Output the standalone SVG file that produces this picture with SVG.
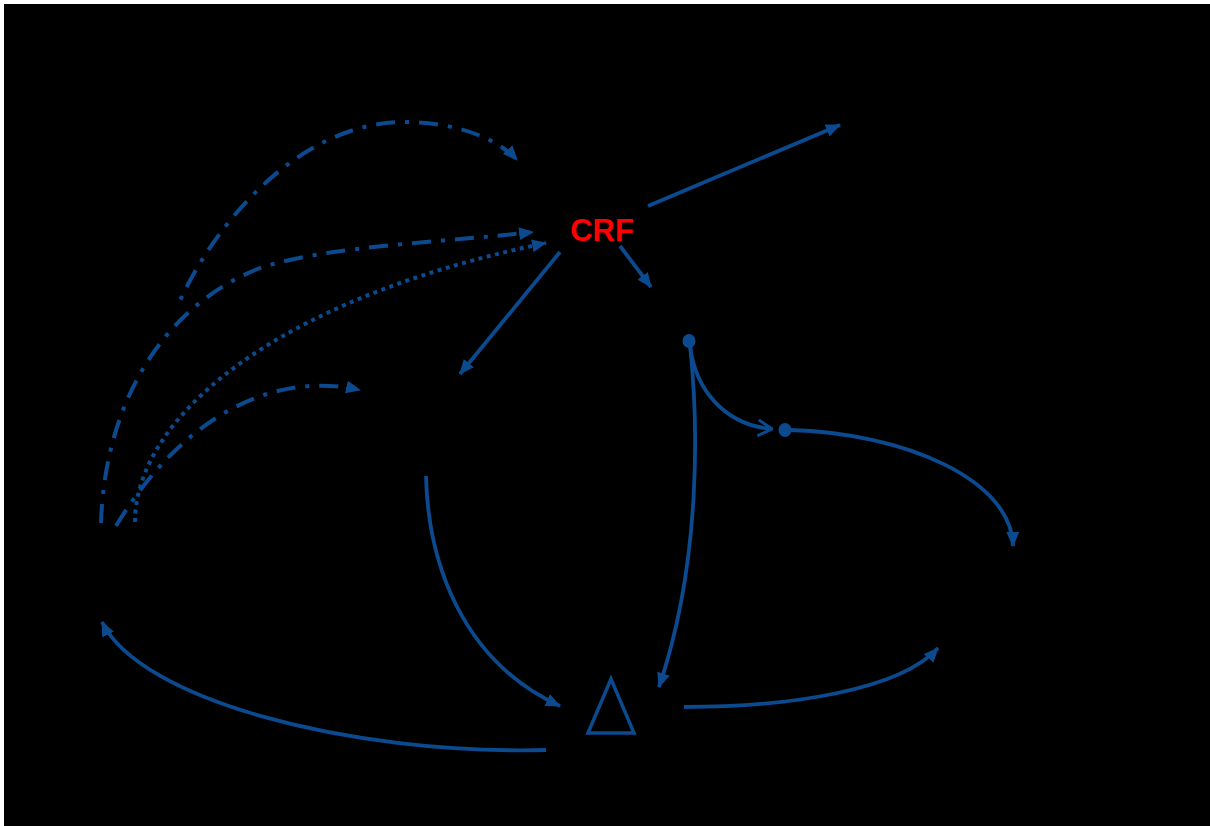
<svg xmlns="http://www.w3.org/2000/svg" width="1210" height="826" viewBox="0 0 1210 826">
<style>
.c{fill:none;stroke:#0B4A8F;stroke-width:3.8}
.dd{stroke-width:4;stroke-dasharray:19 10 4 10}
.dt{stroke-width:4;stroke-dasharray:4 4.5}
.arr{marker-end:url(#ah)}
.node{fill:#0B4A8F}
.lbl{font-family:"Liberation Sans",Arial,sans-serif;font-weight:bold;font-size:31px;fill:#FF0000}
</style>
<defs>
<marker id="ah" viewBox="0 0 15 13" refX="14" refY="6.5" markerWidth="15" markerHeight="13" markerUnits="userSpaceOnUse" orient="auto">
<path d="M0,0 L15,6.5 L0,13 z" fill="#0B4A8F"/>
</marker>
<marker id="oh" viewBox="0 0 16 18" refX="15" refY="9" markerWidth="16" markerHeight="18" markerUnits="userSpaceOnUse" orient="auto">
<path d="M1,1 L15,9 L1,17" fill="none" stroke="#0B4A8F" stroke-width="3"/>
</marker>
</defs>
<rect x="0" y="0" width="1210" height="826" fill="#FFFFFF"/>
<rect x="4" y="4" width="1206" height="822" fill="#000000"/>
<g id="connectors">
<path class="c dd arr" style="stroke-dashoffset:23" d="M178,305 C215,222 300,122 405,122 C455,122 497,138 517,160"/>
<path class="c dd arr" d="M101,523 C105,400 165,305 260,268 C330,245 450,242 533,232"/>
<path class="c dt arr" d="M135,522 C135,420 270,300 546,243"/>
<path class="c dd arr" d="M116,526 C180,420 270,370 360,390"/>
<path class="c arr" d="M648,206 L840,125"/>
<path class="c arr" d="M560,252 L460,374"/>
<path class="c arr" d="M620,246 L651,287"/>
<path class="c" style="marker-end:url(#oh)" d="M690,345 C695,390 725,425 772,429"/>
<path class="c arr" d="M690,345 C698,420 702,560 659,687"/>
<path class="c arr" d="M790,430 C905,433 1012,480 1013,546"/>
<path class="c arr" d="M426,476 C428,560 460,660 560,706"/>
<path class="c arr" d="M684,707 C790,707 900,690 938,648"/>
<path class="c arr" d="M546,750 C350,755 140,700 102,622"/>
</g>
<g id="node-crf">
<text class="lbl" x="602" y="241" text-anchor="middle">CRF</text>
</g>
<g id="node-dot1">
<ellipse class="node" cx="689" cy="341" rx="6.5" ry="7"/>
</g>
<g id="node-dot2">
<ellipse class="node" cx="785" cy="430" rx="6.5" ry="7"/>
</g>
<g id="node-delta">
<path d="M611,679 L588,733 L634,733 Z" fill="none" stroke="#0B4A8F" stroke-width="3.5"/>
</g>
</svg>
